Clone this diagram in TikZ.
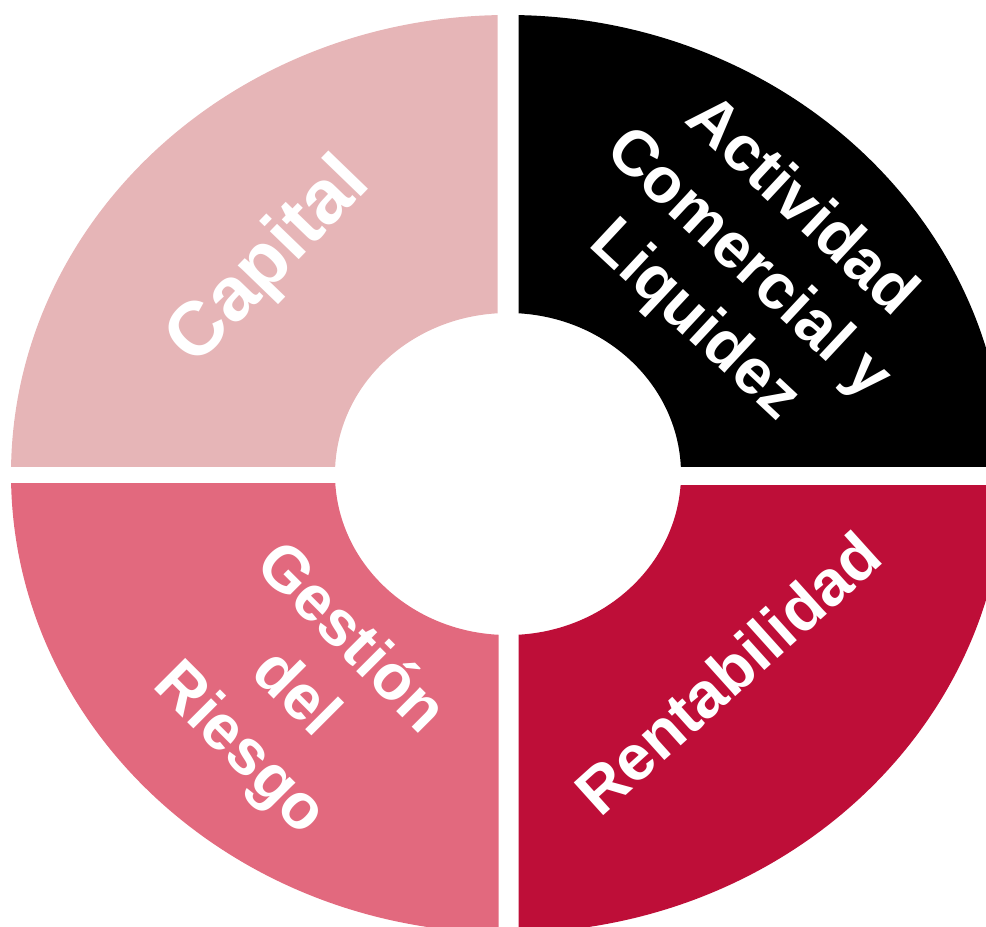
\documentclass[tikz,border=0pt]{standalone}
\usepackage{fontspec}
\setmainfont{Liberation Sans}
\definecolor{capcol}{HTML}{E6B5B7}
\definecolor{actcol}{HTML}{000000}
\definecolor{riecol}{HTML}{E2697E}
\definecolor{rencol}{HTML}{BE0E38}
\begin{document}
\begin{tikzpicture}[x=1pt,y=-1pt,
  ring/.style={even odd rule},
  lbl/.style={text=white, inner sep=0pt, font=\bfseries\fontsize{64}{78}\selectfont},
  biglbl/.style={text=white, inner sep=0pt, font=\bfseries\fontsize{76}{90}\selectfont}]
\useasboundingbox (0,0) rectangle (986,927);
\def\ringpath{(508,474) ellipse [x radius=497, y radius=459] (508,474) ellipse [x radius=173, y radius=161]}
% top-left
\begin{scope}
  \clip (0,0) rectangle (497.5,466);
  \fill[capcol, ring] \ringpath;
\end{scope}
% top-right
\begin{scope}
  \clip (518.5,0) rectangle (986,466);
  \fill[actcol, ring] \ringpath;
\end{scope}
% bottom-left
\begin{scope}
  \clip (0,483.5) rectangle (498.5,927);
  \fill[riecol, ring] \ringpath;
\end{scope}
% bottom-right
\begin{scope}
  \clip (518.5,485) rectangle (986,927);
  \fill[rencol, ring] \ringpath;
\end{scope}
\node[biglbl, rotate=46, anchor=base] (capital) at (284,276) {Capital};
\node[lbl, rotate=-43, align=center] (actividad) at (747,265) {Actividad\\Comercial y\\Liquidez};
\node[lbl, rotate=-45, align=center] (gestion) at (294,695) {Gestión\\del\\Riesgo};
\node[lbl, rotate=42, anchor=base] (rentab) at (743,690) {Rentabilidad};
\end{tikzpicture}
\end{document}
